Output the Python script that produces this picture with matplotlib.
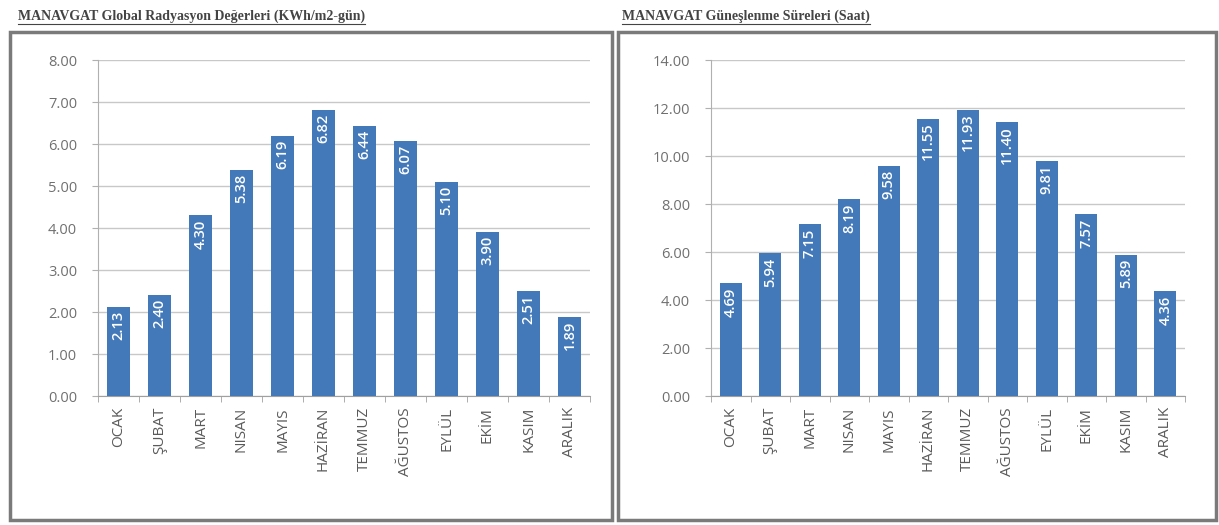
import matplotlib.pyplot as plt
from matplotlib.patches import Rectangle
from matplotlib.lines import Line2D
import numpy as np

months = ['OCAK', 'ŞUBAT', 'MART', 'NISAN', 'MAYIS', 'HAZİRAN', 'TEMMUZ',
          'AĞUSTOS', 'EYLÜL', 'EKİM', 'KASIM', 'ARALIK']
radiation = [2.13, 2.40, 4.30, 5.38, 6.19, 6.82, 6.44, 6.07, 5.10, 3.90, 2.51, 1.89]
sunshine = [4.69, 5.94, 7.15, 8.19, 9.58, 11.55, 11.93, 11.40, 9.81, 7.57, 5.89, 4.36]

title_left = 'MANAVGAT Global Radyasyon Değerleri (KWh/m2-gün)'
title_right = 'MANAVGAT Güneşlenme Süreleri (Saat)'

bar_color = '#4379b9'
grid_color = '#c8c8c8'
text_color = '#5a5a5a'

fig = plt.figure(figsize=(12.19, 5.25), dpi=100)
W, H = 1219, 525


def fx(px):
    return px / W


def fy(py):
    return 1 - py / H


# panel frames
for x0, x1 in [(10, 612), (618, 1216)]:
    fig.patches.append(Rectangle((fx(x0), fy(520)), fx(x1 - x0), (520 - 32) / H,
                                 transform=fig.transFigure, fill=False,
                                 edgecolor='#7a7a7a', linewidth=2.5))

# titles with underline
for x0, txt in [(18, title_left), (622, title_right)]:
    fig.text(fx(x0), fy(16), txt, family='Liberation Serif', weight='bold',
             fontsize=10, color='#444444', va='center', ha='left')

fig.canvas.draw()
renderer = fig.canvas.get_renderer()
for t in fig.texts:
    bb = t.get_window_extent(renderer).transformed(fig.transFigure.inverted())
    fig.lines.append(Line2D([bb.x0, bb.x1], [bb.y0 - 0.002, bb.y0 - 0.002],
                            transform=fig.transFigure, color='#444444', linewidth=0.8))


def draw_panel(rect, values, ymax, step):
    ax = fig.add_axes(rect)
    x = np.arange(len(months))
    ax.bar(x, values, width=0.56, color=bar_color, zorder=3)
    ax.set_xlim(-0.5, len(months) - 0.5)
    ax.set_ylim(0, ymax)
    ticks = np.arange(0, ymax + step / 2, step)
    ax.set_yticks(ticks)
    ax.set_yticklabels(['%.2f' % v for v in ticks])
    ax.set_xticks(x)
    ax.set_xticklabels(months, rotation=90)
    ax.set_xticks(np.arange(-0.5, len(months)), minor=True)
    ax.grid(axis='y', color=grid_color, linewidth=1, zorder=0)
    for s in ['top', 'right']:
        ax.spines[s].set_visible(False)
    ax.spines['left'].set_color('#b0b0b0')
    ax.spines['bottom'].set_color('#a0a0a0')
    ax.tick_params(axis='x', which='major', length=0, pad=8, labelsize=11,
                   labelcolor=text_color)
    ax.tick_params(axis='x', which='minor', length=4, color='#a0a0a0')
    ax.tick_params(axis='y', length=4, color='#b0b0b0', pad=11, labelsize=10.5,
                   labelcolor='#707070')
    for lab in ax.get_xticklabels() + ax.get_yticklabels():
        lab.set_family('Open Sans')
    for xi, v in zip(x, values):
        ax.text(xi, v - ymax * 0.012, '%.2f' % v, rotation=90, ha='center',
                va='top', color='white', fontsize=10.5, weight='semibold',
                family='Open Sans', zorder=4)
    return ax


draw_panel([fx(98), fy(396), fx(590 - 98), (396 - 60) / H], radiation, 8, 1)
draw_panel([fx(711), fy(396), fx(1185 - 711), (396 - 60) / H], sunshine, 14, 2)

fig.savefig('out.png', dpi=100)
